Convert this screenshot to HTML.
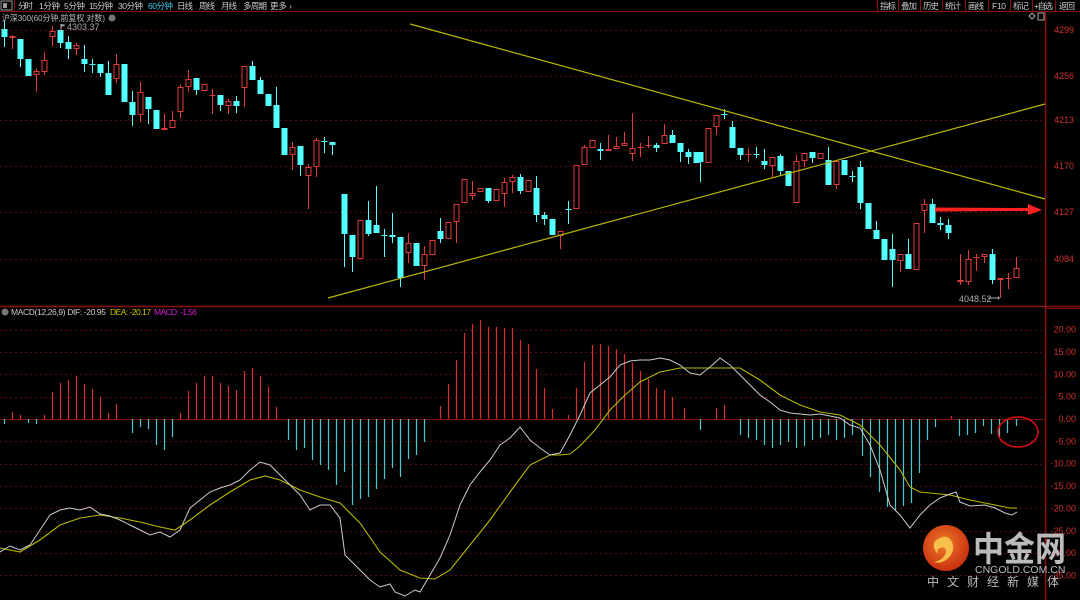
<!DOCTYPE html>
<html><head><meta charset="utf-8"><style>
body{margin:0;background:#000;width:1080px;height:600px;overflow:hidden}
svg{display:block}
text{font-family:"Liberation Sans","Noto Sans CJK SC",sans-serif}
</style></head><body>
<svg id="s" width="1080" height="600" xmlns="http://www.w3.org/2000/svg">
<rect width="1080" height="600" fill="#000"/>
<g id="grid"></g>
<line x1="0" y1="11.5" x2="1080" y2="11.5" stroke="#8a1010"/>
<line x1="0" y1="306.5" x2="1080" y2="306.5" stroke="#8a1010" stroke-width="1.5"/>
<line x1="1045.5" y1="11" x2="1045.5" y2="600" stroke="#8a1010" stroke-width="1.5"/>
<line x1="1045" y1="308.5" x2="1080" y2="308.5" stroke="#8a1010"/>
<rect x="1" y="1" width="11" height="9" fill="none" stroke="#999" stroke-width="1"/>
<rect x="3" y="3" width="4" height="5" fill="#999"/>
<line x1="14.5" y1="0" x2="14.5" y2="11" stroke="#8a1010"/>
<g font-size="8.5" fill="#ccc" lengthAdjust="spacingAndGlyphs">
<text x="18" y="9" textLength="15">分时</text><text x="39" y="9" textLength="21">1分钟</text><text x="64" y="9" textLength="21">5分钟</text><text x="89" y="9" textLength="24">15分钟</text><text x="118" y="9" textLength="25">30分钟</text>
<text x="148" y="9" textLength="25" fill="#3cc8e6">60分钟</text><text x="177" y="9" textLength="16">日线</text><text x="199" y="9" textLength="16">周线</text><text x="221" y="9" textLength="16">月线</text><text x="243" y="9" textLength="24">多周期</text><text x="270" y="9" textLength="22">更多 ›</text>
<text x="880" y="9" textLength="16">指标</text><text x="901" y="9" textLength="16">叠加</text><text x="923" y="9" textLength="16">历史</text><text x="945" y="9" textLength="16">统计</text><text x="968" y="9" textLength="16">画线</text><text x="992" y="9" textLength="14">F10</text><text x="1013" y="9" textLength="16">标记</text><text x="1034" y="9" textLength="19">+自选</text><text x="1059" y="9" textLength="16">返回</text>
</g>
<g stroke="#8a1010"><line x1="877.5" y1="0" x2="877.5" y2="11"/><line x1="898.5" y1="0" x2="898.5" y2="11"/><line x1="920.5" y1="0" x2="920.5" y2="11"/><line x1="942.5" y1="0" x2="942.5" y2="11"/><line x1="965.5" y1="0" x2="965.5" y2="11"/><line x1="988.5" y1="0" x2="988.5" y2="11"/><line x1="1010.5" y1="0" x2="1010.5" y2="11"/><line x1="1032.5" y1="0" x2="1032.5" y2="11"/><line x1="1055.5" y1="0" x2="1055.5" y2="11"/></g>
<text x="2" y="21" font-size="8.5" fill="#bbb" textLength="103" lengthAdjust="spacingAndGlyphs">沪深300(60分钟,前复权 对数)</text>
<circle cx="112" cy="18" r="3.5" fill="#777"/>
<path d="M1029 16 l3 -3 l3 3 l-3 3z" fill="none" stroke="#aaa"/>
<rect x="1038" y="13" width="6" height="7" fill="none" stroke="#aaa"/>
<g font-size="9" fill="#d03030" text-anchor="end">
<text x="1074" y="33">4299</text><text x="1074" y="79">4256</text><text x="1074" y="123">4213</text><text x="1074" y="169">4170</text><text x="1074" y="215">4127</text><text x="1074" y="262">4084</text>
</g>
<g id="candles"></g>
<line x1="410" y1="24" x2="1045" y2="199" stroke="#b8b800" stroke-width="1.2"/>
<line x1="328" y1="298" x2="1045" y2="104" stroke="#b8b800" stroke-width="1.2"/>
<path d="M935 207.5 L1028 208 L1028 204 L1042 210 L1028 215 L1028 211 L935 211.5 Z" fill="#ff2020"/>
<line x1="61" y1="24" x2="61" y2="32" stroke="#aaa"/><path d="M61 24 l5 1 l-5 2z" fill="#aaa"/>
<text x="67" y="30" font-size="9" fill="#aaa">4303.37</text>
<text x="959" y="302" font-size="9" fill="#aaa">4048.52</text>
<line x1="988" y1="298" x2="998" y2="298" stroke="#aaa"/><path d="M998 296 l2 2 l-2 2z" fill="#aaa"/>
<circle cx="5" cy="312" r="3.5" fill="#777"/>
<g font-size="8.5" lengthAdjust="spacingAndGlyphs">
<text x="11" y="315" fill="#ccc" textLength="95">MACD(12,26,9)  DIF: -20.95</text>
<text x="110" y="315" fill="#c8c800" textLength="41">DEA: -20.17</text>
<text x="154" y="315" fill="#d020d0" textLength="43">MACD: -1.56</text>
</g>
<g id="macdax" font-size="9" fill="#d03030" text-anchor="end"></g>
<g id="hist"></g>
<polyline id="dea" fill="none" stroke="#b8b800" stroke-width="1.1"/>
<polyline id="dif" fill="none" stroke="#ccc" stroke-width="1"/>
<ellipse cx="1018" cy="432" rx="20" ry="15" fill="none" stroke="#e01010" stroke-width="1.5"/>
<defs><radialGradient id="lg" cx="0.45" cy="0.4" r="0.6"><stop offset="0" stop-color="#f07a2a"/><stop offset="1" stop-color="#c8300f"/></radialGradient></defs>
<circle cx="946" cy="548" r="23" fill="url(#lg)"/>
<path d="M936 552 q-6 -10 4 -14 q8 -4 12 4 q4 10 -6 18 q-6 4 -12 2 q10 -2 12 -10 q0 -6 -6 -4 q-4 2 -2 6z" fill="#f7c04a"/>
<text x="973" y="561" font-size="34" font-weight="bold" fill="#bbb" textLength="93" lengthAdjust="spacingAndGlyphs">中金网</text>
<text x="975" y="573" font-size="10.5" fill="#bbb">CNGOLD.COM.CN</text>
<text x="927" y="586" font-size="12" fill="#bbb" letter-spacing="8">中文财经新媒体</text>
</svg>
<script>
var NS="http://www.w3.org/2000/svg";
function el(p,t,a){var e=document.createElementNS(NS,t);for(var k in a)e.setAttribute(k,a[k]);p.appendChild(e);return e;}
var g=document.getElementById('grid');
[30,76,120,166,212,259].forEach(function(y){el(g,'line',{x1:0,y1:y+.5,x2:1045,y2:y+.5,stroke:'#5a0c0c','stroke-dasharray':'2,3'});});
var ax=document.getElementById('macdax');
for(var v=20;v>=-35;v-=5){var y=419-v*4.47;el(g,'line',{x1:0,y1:Math.round(y)+.5,x2:1045,y2:Math.round(y)+.5,stroke:v==0?'#7a1010':'#5a0c0c','stroke-dasharray':v==0?'':'2,3'});var t=el(ax,'text',{x:1076,y:y+3});t.textContent=v.toFixed(2);}
var C=[[4,'c',29,37,20,47],[12,'r',36,38,35,49],[20,'c',39,59,39,67],[28,'c',59,76],[36,'r',71,75,68,92],[44,'r',60,72,52,75],[52,'r',31,37,26,46],[60,'c',30,43,30,48],[68,'c',42,49,36,59],[76,'r',45,49,43,55],[84,'c',59,64,45,72],[92,'c',64,64.5,59,73],[100,'c',64,73,64,77],[108,'c',73,95,61,95],[116,'r',64,79,54,83],[124,'c',64,102],[132,'c',102,115,91,126],[140,'r',92,115,82,122],[148,'c',97,109,97,124],[156,'c',110,129],[164,'r',128,130,114,130],[172,'r',120,128,111,128],[180,'r',87,112,84,118],[188,'r',79,87,70,92],[196,'c',78,90,78,95],[204,'r',84,91],[212,'r',95,95.5,89,114],[220,'c',95,105,95,111],[228,'r',101,106,99,114],[236,'c',101,106,96,113],[244,'r',66,88,66,107],[252,'c',66,80,61,80],[260,'c',80,94,77,94],[268,'c',94,106],[276,'c',105,128,87,128],[284,'c',128,155],[292,'r',147,155,142,170],[300,'c',146,165,146,176],[308,'r',167,176,164,209],[316,'r',140,167,138,177],[324,'c',141,141.5,137,153],[332,'c',142,145,142,155],
[344,'c',194,234,194,267],[352,'c',235,257,235,272],[360,'r',220,259],[368,'c',220,234,201,236],[376,'c',225,233,186,233],[384,'c',235,235.5,229,257],[392,'c',235,237,213,243],[400,'c',237,278,237,287],[408,'r',243,253,233,263],[416,'c',243,266],[424,'r',254,266,246,280],[432,'r',240,255],[440,'c',231,239,218,243],[448,'r',222,239],[456,'r',204,222,204,243],[464,'r',179,203],[472,'r',193,196,181,200],[480,'r',188,192],[488,'c',188,201,188,203],[496,'r',189,201],[504,'r',182,194,178,207],[512,'r',177,182,175,193],[520,'c',177,191,174,194],[528,'r',180,192],[536,'c',188,215,176,222],[544,'c',215,219,212,225],[552,'c',219,235],[560,'r',231,236,231,249],[568,'c',209,209.5,201,224],[576,'r',165,209],[584,'r',147,165,145,165],[592,'r',140,148],[600,'c',149,151,143,160],[608,'r',149,151,135,151],[616,'r',146,149,137,149],[624,'r',143,146,132,146],[632,'r',148,154,113,161],[640,'r',147,147.5,143,157],[648,'r',145,145.5,136,148],[656,'c',145,148,143,152],[664,'r',135,144,124,144],[672,'c',135,143,130,143],[680,'c',143,152,143,162],[688,'c',152,157,149,164],[696,'c',152,163],
[700,'c',152,162,152,182],[708,'r',128,163],[716,'r',115,127,115,135],[724,'c',114,114.5,109,119],[732,'c',127,148,121,148],[740,'c',148,155,148,160],[748,'r',154,154.5,148,162],[756,'c',154,154.5,147,158],[764,'c',161,165,149,169],[772,'r',157,166,157,177],[780,'c',156,171,154,175],[788,'c',171,186],[796,'r',161,203,155,203],[804,'r',153,161,153,167],[812,'c',152,158,152,163],[820,'r',153,159],[828,'c',160,185,147,185],[836,'r',161,185,161,189],[844,'c',160,175],[852,'c',176,176.5,171,182],[860,'c',167,203,161,209],[868,'c',203,229],[876,'c',230,239,221,239],[884,'c',239,260],[892,'c',249,260,234,287],[900,'r',254,261,254,272],[908,'c',254,269,239,269],[916,'r',223,270],[924,'r',204,211,199,233],[932,'c',204,223,199,223],[940,'c',223,225,217,230],[948,'c',225,233,219,239],[960,'r',280,282,254,285],[968,'r',259,282,250,285],[976,'r',257,257.5,254,271],[984,'r',254,257,254,263],[992,'c',254,280,249,284],[1000,'r',278,280,278,298],[1008,'r',278,278.5,273,289],[1016,'r',268,278,257,278]];
var cg=document.getElementById('candles');
C.forEach(function(c){var x=c[0],col=c[1]=='r'?'#e03a3a':'#54ffff',bt=c[2],bb=c[3],wt=c.length>4?c[4]:bt,wb=c.length>4?c[5]:bb;
el(cg,'line',{x1:x+.5,y1:wt,x2:x+.5,y2:wb,stroke:col});
if(bb-bt<1.5){el(cg,'line',{x1:x-2.5,y1:bt+.5,x2:x+3.5,y2:bt+.5,stroke:col});}
else if(c[1]=='r'){el(cg,'rect',{x:x-2,y:bt+.5,width:5,height:bb-bt-1,fill:'#000',stroke:col});}
else el(cg,'rect',{x:x-2.5,y:bt,width:6,height:bb-bt,fill:col});});
var H=[[4,424],[12,412],[20,415],[28,423],[36,424],[44,415],[52,392],[60,383],[68,380],[76,376],[84,384],[92,389],[100,397],[108,413],[116,404],[132,433],[140,427],[148,429],[156,445],[164,450],[172,437],[180,413],[188,391],[196,383],[204,376],[212,376],[220,383],[228,386],[236,390],[244,371],[252,368],[260,376],[268,387],[276,407],[288,440],[296,450],[304,448],[312,460],[320,465],[328,470],[336,485],[344,472],[352,505],[360,499],[368,497],[376,489],[384,479],[392,468],[400,477],[408,459],[416,455],[424,442],[440,406],[448,384],[456,360],[464,333],[472,324],[480,320],[488,327],[496,327],[504,328],[512,328],[520,340],[528,344],[536,369],[544,388],[552,409],[568,415],[576,388],[584,362],[592,345],[600,344],[608,346],[616,349],[624,354],[632,363],[640,371],[648,379],[656,388],[664,390],[672,397],[684,408],[700,430],[716,408],[724,405],[740,435],[748,438],[756,440],[764,445],[772,448],[780,445],[788,442],[796,448],[804,446],[812,440],[820,438],[828,435],[836,440],[844,438],[852,435],[862,456],[870,477],[879,492],[887,507],[895,510],[903,506],[911,503],[919,473],[927,440],[935,427],[951,416],[959,436],[967,435],[975,433],[983,426],[991,434],[999,437],[1007,433],[1016,426]];
var hg=document.getElementById('hist');
H.forEach(function(h){var x=h[0]+.5,y=h[1];el(hg,'line',{x1:x,y1:419,x2:x,y2:y,stroke:y<419?'#d83030':'#4ac8d0','stroke-width':1.2});});
document.getElementById('dif').setAttribute('points',"0,552 10,546 20,550 30,545 40,530 50,515 60,510 70,508 80,510 90,507 100,514 110,516 120,520 130,525 140,530 150,535 160,532 170,537 180,530 190,508 200,500 210,492 220,488 230,485 240,480 250,470 260,462 270,465 280,475 290,485 300,495 310,510 320,505 330,505 340,518 345,555 360,570 370,580 380,587 390,584 395,592 405,596 415,590 420,592 430,575 440,558 450,535 460,505 470,485 480,472 490,460 500,445 510,438 520,427 530,440 540,448 550,455 560,453 570,435 580,415 590,393 600,385 610,377 620,365 630,361 640,360 650,360 660,358 670,360 680,365 690,373 700,375 710,367 720,358 730,365 740,375 750,385 760,395 770,402 780,410 790,413 800,414 810,415 820,414 830,416 840,418 850,425 860,428 870,445 880,470 890,505 900,515 910,528 920,515 930,505 940,498 950,494 956,492 960,502 970,506 985,505 995,508 1005,513 1012,515 1017,512");
document.getElementById('dea').setAttribute('points',"0,548 20,552 40,540 60,525 80,518 100,515 120,518 140,522 160,527 175,530 190,520 210,505 230,492 250,480 265,476 280,480 300,490 320,497 340,503 360,523 380,552 400,570 420,578 435,579 450,570 470,545 490,520 510,492 530,465 550,455 560,455 570,454 580,446 595,430 610,410 625,395 640,382 660,372 680,368 700,368 720,368 740,368 760,380 780,395 800,405 820,412 840,415 860,425 880,445 900,470 910,487 920,492 940,494 950,495 970,500 990,504 1010,508 1017,508");
</script>
</body></html>
